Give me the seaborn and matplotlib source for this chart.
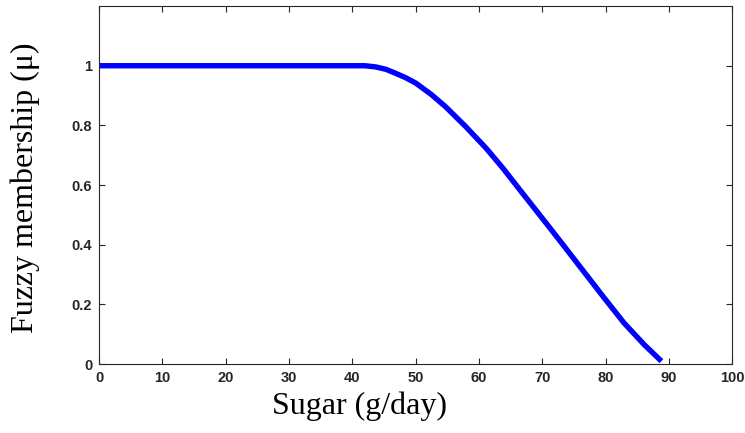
import numpy as np
import pandas as pd
import matplotlib
matplotlib.use('Agg')
import matplotlib.pyplot as plt
import seaborn as sns

# values
sugar = [0, 42, 43.7, 45.3, 46.8, 48.4, 50, 52.5, 54.7, 57.9, 61.1, 63.8,
         66.6, 69.8, 72.9, 75.6, 79.8, 82.9, 86.1, 88.8]
membership = [1, 1, 0.996, 0.988, 0.975, 0.96, 0.942, 0.903, 0.863, 0.796,
              0.724, 0.656, 0.58, 0.494, 0.41, 0.336, 0.221, 0.138, 0.065, 0.01]

x_ticks = [0, 10, 20, 30, 40, 50, 60, 70, 80, 90, 100]
y_ticks = [0, 0.2, 0.4, 0.6, 0.8, 1]
y_tick_labels = ['0', '0.2', '0.4', '0.6', '0.8', '1']

sns.set_style('ticks')
plt.rcParams['font.family'] = ['Liberation Sans', 'DejaVu Sans']

df = pd.DataFrame({'sugar': sugar, 'mu': membership})

fig = plt.figure(figsize=(7.45, 4.33), dpi=100)
ax = fig.add_axes([0.133, 0.159, 0.850, 0.827])

sns.lineplot(data=df, x='sugar', y='mu', color='#0000ff', linewidth=3.9,
             ax=ax, legend=False)
ax.lines[0].set_solid_capstyle('butt')

ax.set_xlim(0, 100)
ax.set_ylim(0, 1.2)
ax.set_xticks(x_ticks)
ax.set_xticklabels([str(t) for t in x_ticks])
ax.set_yticks(y_ticks)
ax.set_yticklabels(y_tick_labels)

for s in ax.spines.values():
    s.set_visible(True)
    s.set_color('#262626')
    s.set_linewidth(0.8)

ax.tick_params(direction='in', top=True, right=True, length=4, width=0.8,
               color='#262626', labelcolor='#262626')
ax.tick_params(axis='x', pad=5)
ax.tick_params(axis='y', pad=5)
for lab in ax.get_xticklabels() + ax.get_yticklabels():
    lab.set_fontweight('bold')
    lab.set_fontsize(10.5)

ax.set_xlabel('Sugar (g/day)', family=['Liberation Serif', 'DejaVu Serif'],
              fontsize=23, color='black')
ax.set_ylabel('Fuzzy membership (μ)', family=['Liberation Serif', 'DejaVu Serif'],
              fontsize=23, color='black')
ax.xaxis.set_label_coords(0.412, -0.075)
ax.yaxis.set_label_coords(-0.093, 0.494)

fig.savefig('out.png', dpi=100)
